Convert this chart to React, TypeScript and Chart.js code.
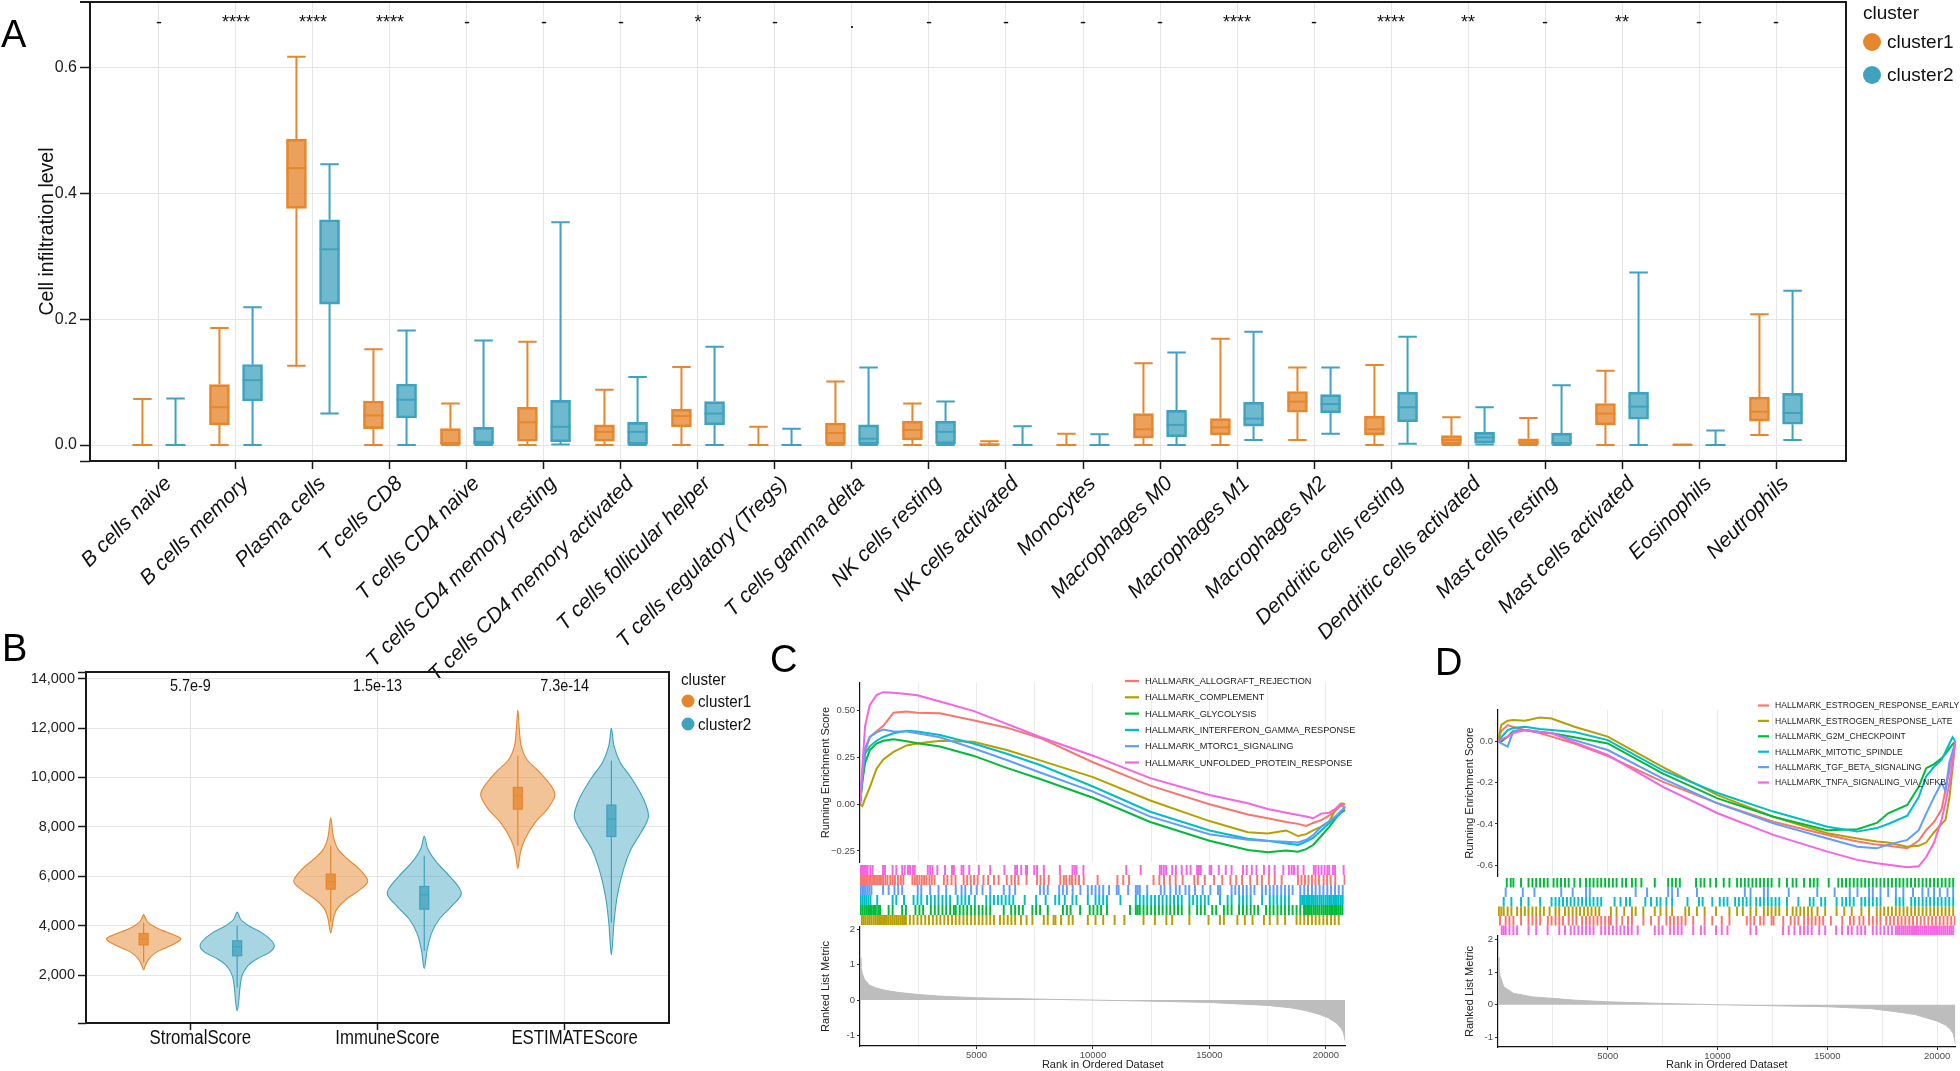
import React, { useEffect, useRef } from 'react';
import { Chart, registerables } from 'chart.js';

Chart.register(...registerables);

const SANS = '"Liberation Sans", Arial, Helvetica, sans-serif';
Chart.defaults.font.family = SANS;

// ---------------- Panel A : CIBERSORT boxplots ----------------
const clusterNames = ['cluster1', 'cluster2'];
const immuneCells = [
  'B cells naive', 'B cells memory', 'Plasma cells', 'T cells CD8', 'T cells CD4 naive',
  'T cells CD4 memory resting', 'T cells CD4 memory activated', 'T cells follicular helper',
  'T cells regulatory (Tregs)', 'T cells gamma delta', 'NK cells resting', 'NK cells activated',
  'Monocytes', 'Macrophages M0', 'Macrophages M1', 'Macrophages M2', 'Dendritic cells resting',
  'Dendritic cells activated', 'Mast cells resting', 'Mast cells activated', 'Eosinophils', 'Neutrophils',
];
const significanceLabels = ['-', '****', '****', '****', '-', '-', '-', '*', '-', '.', '-', '-', '-', '-', '****', '-', '****', '**', '-', '**', '-', '-'];
// [min, q1, median, q3, max]
const cluster1Boxes = [
  [0, 0, 0, 0, 0.073], [0, 0.032, 0.060, 0.096, 0.186], [0.126, 0.376, 0.440, 0.486, 0.617],
  [0, 0.026, 0.047, 0.070, 0.152], [0, 0.001, 0.003, 0.026, 0.066], [0, 0.006, 0.036, 0.060, 0.164],
  [0, 0.006, 0.021, 0.032, 0.088], [0, 0.029, 0.046, 0.057, 0.124], [0, 0, 0, 0, 0.029],
  [0, 0.001, 0.019, 0.035, 0.101], [0, 0.008, 0.024, 0.038, 0.066], [0, 0, 0.001, 0.002, 0.006],
  [0, 0, 0, 0, 0.018], [0, 0.011, 0.025, 0.050, 0.130], [0, 0.016, 0.028, 0.042, 0.169],
  [0.008, 0.052, 0.069, 0.085, 0.123], [0, 0.016, 0.025, 0.046, 0.127], [0, 0.001, 0.008, 0.015, 0.044],
  [0, 0.001, 0.004, 0.010, 0.043], [0, 0.032, 0.050, 0.066, 0.118], [0, 0, 0, 0, 0.001],
  [0.016, 0.038, 0.053, 0.076, 0.208],
];
const cluster2Boxes = [
  [0, 0, 0, 0, 0.074], [0, 0.070, 0.103, 0.128, 0.219], [0.050, 0.224, 0.311, 0.358, 0.446],
  [0, 0.043, 0.072, 0.097, 0.182], [0, 0, 0.005, 0.028, 0.166], [0.001, 0.005, 0.029, 0.071, 0.354],
  [0, 0.001, 0.021, 0.036, 0.108], [0, 0.032, 0.050, 0.069, 0.156], [0, 0, 0, 0, 0.026],
  [0, 0.001, 0.010, 0.032, 0.123], [0, 0.002, 0.021, 0.038, 0.069], [0, 0, 0, 0, 0.030],
  [0, 0, 0, 0, 0.017], [0, 0.013, 0.032, 0.055, 0.147], [0.008, 0.030, 0.042, 0.068, 0.180],
  [0.018, 0.051, 0.065, 0.080, 0.123], [0.002, 0.037, 0.060, 0.084, 0.172], [0.001, 0.003, 0.012, 0.020, 0.060],
  [0, 0.001, 0.003, 0.019, 0.095], [0, 0.041, 0.061, 0.084, 0.274], [0, 0, 0, 0, 0.023],
  [0.008, 0.033, 0.051, 0.082, 0.245],
];
const boxYTicks = [0, 0.2, 0.4, 0.6];

// ---------------- Panel B : ESTIMATE violins ----------------
const scoreNames = ['StromalScore', 'ImmuneScore', 'ESTIMATEScore'];
const scorePValues = ['5.7e-9', '1.5e-13', '7.3e-14'];
const scoreYTicks = [2000, 4000, 6000, 8000, 10000, 12000, 14000];
// violin outlines: [value, relative half-width]
const cluster1Violins = [
  [[4450, 0], [4300, 0.05], [4130, 0.12], [3950, 0.3], [3800, 0.52], [3650, 0.78], [3480, 1.0], [3320, 0.9], [3120, 0.62], [2920, 0.34], [2650, 0.14], [2400, 0.05], [2210, 0]],
  [[8370, 0], [7620, 0.07], [7090, 0.2], [6680, 0.47], [6280, 0.78], [5800, 1.0], [5400, 0.74], [5060, 0.41], [4660, 0.16], [4250, 0.07], [3710, 0]],
  [[12730, 0], [11960, 0.04], [11280, 0.09], [10740, 0.24], [10200, 0.6], [9660, 0.9], [9260, 1.0], [8720, 0.8], [8180, 0.47], [7500, 0.19], [6960, 0.07], [6320, 0]],
];
const cluster2Violins = [
  [[4550, 0], [4250, 0.1], [3980, 0.33], [3710, 0.67], [3390, 0.93], [3150, 1.0], [2920, 0.87], [2650, 0.53], [2380, 0.29], [1970, 0.13], [1430, 0.07], [890, 0.04], [550, 0]],
  [[7620, 0], [7090, 0.1], [6550, 0.34], [6010, 0.68], [5330, 1.0], [4790, 0.74], [4250, 0.4], [3710, 0.2], [3040, 0.08], [2270, 0]],
  [[12000, 0], [11280, 0.07], [10610, 0.24], [9930, 0.56], [9120, 0.87], [8420, 1.0], [7770, 0.8], [7100, 0.53], [6290, 0.33], [5210, 0.16], [4130, 0.07], [2820, 0]],
];
const cluster1ViolinBoxes = [[2510, 3224, 3454, 3684, 4130], [4149, 5479, 5776, 6086, 7233], [7233, 8718, 9258, 9595, 10877]];
const cluster2ViolinBoxes = [[1500, 2780, 3144, 3387, 3994], [2978, 4669, 5249, 5587, 6828], [4130, 7611, 8314, 8880, 10674]];

// ---------------- Panels C & D : GSEA ----------------
const hueColors = ['#F8766D', '#B79F00', '#00BA38', '#00BFC4', '#619CFF', '#F564E3'];
const rankMax = 20840;
const rankGridTicks = [2500, 5000, 7500, 10000, 12500, 15000, 17500, 20000];

const gseaCNames = ['HALLMARK_ALLOGRAFT_REJECTION', 'HALLMARK_COMPLEMENT', 'HALLMARK_GLYCOLYSIS', 'HALLMARK_INTERFERON_GAMMA_RESPONSE', 'HALLMARK_MTORC1_SIGNALING', 'HALLMARK_UNFOLDED_PROTEIN_RESPONSE'];
const gseaCRanks = [0, 100, 220, 420, 710, 1000, 1440, 2000, 2460, 3430, 4860, 6300, 7730, 10000, 12460, 15000, 16650, 17500, 18300, 18800, 19150, 19450, 19800, 20150, 20450, 20650, 20830];
const esAllograft = [0, 0.12, 0.28, 0.36, 0.39, 0.42, 0.49, 0.496, 0.49, 0.487, 0.45, 0.41, 0.355, 0.225, 0.10, 0.0, -0.055, -0.075, -0.095, -0.105, -0.116, -0.10, -0.085, -0.06, -0.03, -0.005, -0.02];
const esComplement = [0, -0.01, 0.03, 0.09, 0.19, 0.24, 0.28, 0.315, 0.325, 0.34, 0.335, 0.29, 0.235, 0.145, 0.02, -0.09, -0.15, -0.157, -0.14, -0.17, -0.16, -0.14, -0.12, -0.09, -0.02, 0.005, 0.0];
const esGlycolysis = [0, 0.12, 0.22, 0.29, 0.325, 0.34, 0.348, 0.337, 0.327, 0.309, 0.26, 0.195, 0.135, 0.035, -0.095, -0.195, -0.245, -0.257, -0.247, -0.254, -0.24, -0.218, -0.17, -0.12, -0.07, -0.045, -0.03];
const esIfng = [0, 0.15, 0.27, 0.31, 0.34, 0.36, 0.38, 0.394, 0.39, 0.371, 0.325, 0.27, 0.21, 0.095, -0.04, -0.14, -0.185, -0.195, -0.21, -0.218, -0.2, -0.18, -0.14, -0.1, -0.07, -0.04, -0.01];
const esMtorc1 = [0, 0.15, 0.30, 0.36, 0.385, 0.40, 0.39, 0.389, 0.38, 0.359, 0.30, 0.237, 0.17, 0.068, -0.066, -0.16, -0.19, -0.197, -0.2, -0.205, -0.19, -0.165, -0.12, -0.09, -0.06, -0.035, -0.02];
const esUnfolded = [0, 0.20, 0.42, 0.53, 0.585, 0.60, 0.597, 0.59, 0.583, 0.55, 0.50, 0.43, 0.36, 0.26, 0.14, 0.05, 0.005, -0.025, -0.045, -0.058, -0.065, -0.075, -0.05, -0.045, -0.02, 0.0, -0.02];
const gseaCSeries = [esAllograft, esComplement, esGlycolysis, esIfng, esMtorc1, esUnfolded];

const hitsCUnfolded = [30, 80, 130, 180, 230, 280, 330, 440, 540, 990, 1070, 1400, 1560, 1810, 1920, 2060, 2150, 2270, 2350, 2910, 3010, 3110, 3320, 3650, 3950, 4030, 4360, 4440, 4690, 5100, 5590, 6200, 6660, 6740, 6920, 7120, 7170, 7480, 7600, 7890, 8580, 9120, 9210, 9290, 9590, 11430, 12050, 12870, 12940, 13040, 13140, 13400, 13560, 13810, 14020, 14190, 14470, 14550, 14630, 15010, 15080, 15400, 15700, 15950, 16440, 16600, 16820, 17020, 17340, 17560, 17800, 18170, 18410, 18530, 18630, 18790, 19040, 19480, 19560, 19680, 19810, 19940, 20060, 20140, 20300, 20390, 20760];
const hitsCAllograft = [30, 90, 150, 210, 270, 330, 400, 470, 560, 640, 730, 820, 900, 990, 1090, 1180, 1300, 1400, 1500, 1630, 1750, 1860, 2250, 2350, 2450, 2550, 2650, 2750, 2850, 2980, 3080, 3200, 3600, 3750, 3930, 4100, 4450, 4600, 4750, 4900, 5050, 5300, 5500, 5750, 5950, 6300, 6500, 6650, 6800, 7150, 7600, 7750, 7900, 8100, 8600, 8750, 8850, 9000, 9100, 9250, 9400, 9600, 10200, 11050, 11300, 11550, 12600, 12850, 13050, 13300, 13550, 13850, 14350, 14500, 14800, 15200, 15550, 15900, 16150, 16400, 16750, 17050, 17250, 17550, 17800, 18100, 18800, 18950, 19100, 19250, 19400, 19550, 19700, 19900, 20050, 20200, 20400, 20800];
const hitsCMtorc1 = [30, 100, 170, 240, 320, 400, 490, 990, 1230, 1480, 1640, 1810, 2480, 2630, 3010, 3370, 3700, 4110, 4360, 4520, 4770, 5010, 5260, 5590, 6170, 6420, 6660, 7730, 7890, 8060, 8550, 8710, 8880, 9130, 9460, 9780, 9950, 10110, 10270, 10440, 10690, 11020, 11100, 11510, 11840, 11920, 12010, 12330, 12910, 13070, 13320, 13560, 13720, 13970, 14130, 14380, 14710, 15040, 15370, 15460, 15950, 16110, 16270, 16440, 16600, 16770, 16930, 17260, 17420, 17590, 17750, 17910, 18080, 18240, 18410, 18570, 18900, 19070, 19230, 19400, 19560, 19730, 19890, 20060, 20220, 20390, 20550, 20720];
const hitsCIfng = [30, 110, 190, 270, 360, 450, 740, 1400, 1560, 1890, 2300, 2470, 2630, 2880, 3040, 3210, 3370, 3540, 3700, 3870, 4190, 4360, 4520, 4680, 4930, 5420, 5590, 5750, 5920, 6080, 6250, 6410, 6580, 7070, 7560, 7970, 8380, 8550, 8790, 9120, 9290, 9780, 10110, 10270, 10440, 10600, 11180, 11840, 12010, 12170, 12330, 12500, 12660, 12830, 12990, 13160, 13320, 13480, 13650, 13810, 14140, 14300, 14470, 14630, 14800, 14960, 15450, 15780, 15950, 16280, 16440, 16600, 16770, 17260, 17590, 17750, 17910, 18080, 18240, 18410, 18900, 18980, 19060, 19150, 19230, 19310, 19400, 19480, 19560, 19640, 19730, 19810, 19890, 19980, 20060, 20140, 20220, 20310, 20390, 20470, 20550, 20640, 20720];
const hitsCGlycolysis = [30, 110, 190, 270, 350, 430, 510, 600, 680, 780, 860, 1230, 1400, 1810, 1970, 2380, 2550, 2710, 3040, 3210, 3370, 3540, 3700, 3870, 4030, 4110, 4280, 4440, 4600, 4770, 4930, 5100, 5260, 5420, 5590, 6170, 6490, 6660, 6820, 6990, 7400, 7560, 7730, 8060, 8710, 8880, 9040, 9450, 9860, 10020, 10190, 10350, 10600, 11590, 11840, 11920, 12010, 12170, 12330, 12500, 12660, 12830, 12990, 13160, 13320, 13490, 13650, 13810, 14140, 14470, 14630, 14800, 15120, 15290, 15620, 15780, 15950, 16270, 16440, 16600, 16770, 16930, 17090, 17430, 17590, 17750, 17920, 18080, 18240, 18410, 18570, 18740, 18900, 19060, 19140, 19230, 19310, 19390, 19480, 19560, 19640, 19720, 19810, 19890, 19970, 20050, 20140, 20220, 20300, 20390, 20470, 20550, 20630, 20710];
const hitsCComplement = [80, 160, 240, 330, 410, 490, 580, 660, 740, 820, 900, 990, 1070, 1150, 1230, 1320, 1400, 1480, 1560, 1640, 1730, 1810, 1890, 1970, 2140, 2300, 2470, 2630, 2800, 2960, 3130, 3290, 3450, 3620, 3780, 3950, 4110, 4270, 4440, 4600, 4770, 4930, 5100, 5260, 5430, 5590, 5750, 6010, 6170, 6340, 6500, 6660, 6910, 7150, 7400, 7890, 8060, 8310, 8390, 8630, 8960, 9130, 9780, 10110, 10440, 10930, 11350, 12170, 12660, 13150, 13400, 14140, 14960, 15450, 15620, 16200, 16520, 16850, 17340, 17590, 17920, 18250, 18740, 18900, 19070, 19230, 19400, 19560, 19720, 19890, 20050, 20220, 20380, 20550];
// top-to-bottom rows of the barcode with the index of their gene set
const gseaCRowSets = [5, 0, 4, 3, 2, 1];
const gseaCRowHits = [hitsCUnfolded, hitsCAllograft, hitsCMtorc1, hitsCIfng, hitsCGlycolysis, hitsCComplement];
const metricCRanks = [0, 40, 100, 200, 410, 700, 1070, 1600, 2460, 3500, 5000, 7500, 10000, 12500, 15000, 17500, 18500, 19150, 19700, 20100, 20470, 20650, 20750, 20830];
const metricCValues = [1.2, 0.95, 0.75, 0.58, 0.42, 0.34, 0.28, 0.22, 0.16, 0.11, 0.066, 0.03, 0.0, -0.03, -0.066, -0.15, -0.22, -0.3, -0.4, -0.5, -0.66, -0.8, -0.92, -1.15];

const gseaDNames = ['HALLMARK_ESTROGEN_RESPONSE_EARLY', 'HALLMARK_ESTROGEN_RESPONSE_LATE', 'HALLMARK_G2M_CHECKPOINT', 'HALLMARK_MITOTIC_SPINDLE', 'HALLMARK_TGF_BETA_SIGNALING', 'HALLMARK_TNFA_SIGNALING_VIA_NFKB'];
const gseaDRanks = [0, 150, 440, 700, 1220, 1900, 2440, 3480, 5000, 7490, 10000, 12540, 15000, 16370, 17250, 17770, 18640, 19160, 19500, 19860, 20200, 20380, 20560, 20700, 20830];
const esEarly = [0, 0.05, 0.079, 0.07, 0.055, 0.04, 0.023, -0.01, -0.071, -0.195, -0.30, -0.389, -0.453, -0.485, -0.50, -0.506, -0.518, -0.48, -0.43, -0.39, -0.33, -0.235, -0.14, -0.07, 0.0];
const esLate = [0, 0.08, 0.10, 0.103, 0.10, 0.116, 0.111, 0.071, 0.023, -0.123, -0.26, -0.365, -0.445, -0.47, -0.485, -0.49, -0.51, -0.505, -0.49, -0.44, -0.40, -0.38, -0.27, -0.13, 0.0];
const esG2m = [0, 0.0, 0.023, 0.05, 0.055, 0.045, 0.039, 0.02, -0.01, -0.155, -0.276, -0.365, -0.43, -0.425, -0.395, -0.348, -0.308, -0.22, -0.13, -0.11, -0.082, -0.06, -0.034, -0.015, 0.0];
const esMitotic = [0, 0.02, 0.055, 0.065, 0.071, 0.06, 0.055, 0.045, 0.006, -0.139, -0.25, -0.34, -0.413, -0.437, -0.42, -0.40, -0.36, -0.27, -0.17, -0.123, -0.09, -0.05, -0.01, 0.02, 0.0];
const esTgf = [0, -0.01, -0.025, 0.05, 0.055, 0.045, 0.04, 0.006, -0.042, -0.179, -0.30, -0.397, -0.47, -0.51, -0.518, -0.50, -0.477, -0.43, -0.35, -0.27, -0.2, -0.24, -0.1, -0.05, 0.0];
const esTnfa = [0, 0.01, 0.023, 0.04, 0.055, 0.045, 0.039, -0.005, -0.066, -0.219, -0.348, -0.453, -0.534, -0.574, -0.59, -0.598, -0.61, -0.605, -0.56, -0.49, -0.38, -0.30, -0.20, -0.11, 0.0];
const gseaDSeries = [esEarly, esLate, esG2m, esMitotic, esTgf, esTnfa];

const hitsDG2m = [400, 580, 700, 1050, 1390, 1570, 1740, 1920, 2090, 2260, 2530, 2700, 2870, 3050, 3220, 3480, 3740, 4010, 4180, 4350, 4530, 4700, 4880, 5050, 5230, 5400, 5660, 5830, 6100, 6270, 6530, 7140, 7750, 7930, 8100, 8280, 9020, 9230, 9400, 9670, 9930, 10280, 10540, 10890, 11060, 11240, 11410, 11590, 11760, 11940, 12110, 12290, 12460, 12810, 13160, 13420, 13590, 13940, 14210, 14380, 14550, 15060, 15500, 15670, 15850, 16020, 16200, 16370, 16550, 16720, 16890, 17070, 17240, 17420, 17590, 17770, 17940, 18120, 18290, 18460, 18640, 18810, 18990, 19160, 19340, 19510, 19680, 19860, 20030, 20210, 20380, 20560, 20730];
const hitsDTgf = [350, 1130, 1660, 2880, 3400, 4010, 4180, 6270, 6790, 7750, 7930, 8190, 9060, 11240, 11500, 12110, 12290, 13240, 14540, 15330, 16020, 16370, 16900, 17070, 17420, 17770, 18120, 18460, 18900, 19330, 19600, 19860, 20120, 20470, 20730];
const hitsDMitotic = [260, 610, 1050, 1390, 1920, 2440, 2620, 2790, 2960, 3140, 3310, 3480, 3660, 3830, 4010, 4180, 4350, 4530, 4700, 5310, 5580, 5830, 6010, 6710, 6970, 7230, 7400, 7670, 7930, 8630, 9150, 9320, 9760, 10100, 10280, 10450, 10800, 10970, 11150, 11320, 11500, 11760, 11940, 12110, 12290, 12460, 12640, 12810, 13160, 13680, 14200, 14370, 14720, 14900, 15420, 15680, 15850, 16020, 16200, 16550, 16720, 16900, 17070, 17250, 17420, 18120, 18290, 18460, 18820, 18990, 19160, 19340, 19510, 19680, 19860, 20030, 20200, 20380, 20550, 20730];
const hitsDLate = [40, 150, 260, 440, 610, 870, 1050, 1220, 1390, 1570, 1740, 1920, 2090, 2350, 2620, 2790, 3050, 3220, 3400, 3570, 3740, 3920, 4090, 4260, 4440, 4610, 5140, 5400, 5750, 6100, 6270, 6620, 7140, 7400, 7670, 7930, 8530, 8700, 9060, 9410, 9930, 10540, 10890, 11150, 11500, 11760, 12110, 12290, 12460, 12640, 12810, 13160, 13420, 13590, 13770, 13940, 14120, 14290, 14550, 14900, 15420, 15770, 16110, 16550, 16900, 17250, 17420, 17590, 17770, 17940, 18120, 18290, 18470, 18640, 18820, 18990, 19160, 19340, 19510, 19690, 19860, 20030, 20210, 20380, 20550, 20730];
const hitsDEarly = [90, 350, 520, 700, 1050, 1390, 1570, 1740, 1920, 2270, 2440, 2620, 2790, 2960, 3220, 3400, 3570, 3830, 4010, 4180, 4350, 4530, 4700, 4880, 5050, 5140, 5400, 5660, 5920, 6100, 6620, 6970, 7320, 7670, 7840, 8010, 8190, 8360, 8540, 8890, 9410, 9760, 10190, 10540, 11330, 11500, 11670, 11940, 12100, 12460, 12550, 12990, 13330, 13510, 13680, 13940, 14120, 14290, 14460, 14640, 14810, 15160, 15680, 16030, 16200, 16460, 16640, 16900, 17070, 17250, 17420, 17680, 17860, 18030, 18210, 18380, 18550, 18730, 18900, 19080, 19250, 19420, 19600, 19770, 19940, 20120, 20290, 20470, 20640, 20800];
const hitsDTnfa = [170, 260, 350, 520, 700, 870, 1390, 1740, 2260, 2790, 3050, 3310, 3480, 3660, 3830, 4010, 4180, 4350, 4700, 4880, 5050, 5230, 5400, 5580, 5750, 5920, 6090, 6360, 7140, 7320, 7490, 7840, 8010, 8190, 8360, 8890, 9240, 9410, 9930, 10190, 10450, 11500, 11760, 12980, 13240, 13500, 13760, 13940, 14110, 14290, 14630, 14900, 15400, 15670, 15940, 16110, 16370, 16540, 16720, 17070, 17240, 17420, 17590, 17770, 17940, 18120, 18210, 18290, 18380, 18460, 18550, 18640, 18730, 18820, 18900, 18990, 19080, 19160, 19250, 19340, 19430, 19510, 19600, 19690, 19770, 19860, 19950, 20030, 20120, 20210, 20300, 20380, 20470, 20560, 20640, 20730];
const gseaDRowSets = [2, 4, 3, 1, 0, 5];
const gseaDRowHits = [hitsDG2m, hitsDTgf, hitsDMitotic, hitsDLate, hitsDEarly, hitsDTnfa];
const metricDRanks = [0, 40, 90, 260, 700, 1570, 2610, 3500, 5000, 7500, 10000, 12500, 15000, 17000, 18100, 19000, 19500, 20000, 20380, 20600, 20730, 20830];
const metricDValues = [1.45, 1.15, 0.9, 0.55, 0.35, 0.24, 0.19, 0.14, 0.09, 0.04, 0.0, -0.03, -0.06, -0.12, -0.21, -0.3, -0.4, -0.5, -0.62, -0.75, -0.88, -1.18];

// ---------------- styling ----------------
const STROKES = ['#E6872D', '#3FA2BE'];
const BOX_FILLS = ['rgba(230,135,45,0.78)', 'rgba(63,162,190,0.75)'];
const VIOLIN_FILLS = ['rgba(230,135,45,0.5)', 'rgba(63,162,190,0.45)'];
const GRID = '#E6E6E6';
const A_SHIFT = 16; // panel A canvas starts above the page so its plot top sits at y=2

const CANVASES = {
  a: { left: 0, top: -A_SHIFT, width: 1960, height: 700 + A_SHIFT },
  b: { left: 0, top: 630, width: 780, height: 441 },
  c1: { left: 770, top: 630, width: 600, height: 241 },
  c2: { left: 770, top: 865, width: 600, height: 60 },
  c3: { left: 770, top: 913, width: 600, height: 158 },
  d1: { left: 1370, top: 630, width: 590, height: 255 },
  d2: { left: 1370, top: 878, width: 590, height: 57 },
  d3: { left: 1370, top: 922, width: 590, height: 149 },
};

function drawText(ctx: any, text: string, x: number, y: number, font: string, color: string, align = 'left', baseline = 'alphabetic', angle = 0, xScale = 1) {
  ctx.save();
  ctx.translate(x, y);
  if (angle) ctx.rotate(angle);
  if (xScale !== 1) ctx.scale(xScale, 1);
  ctx.font = font;
  ctx.fillStyle = color;
  ctx.textAlign = align;
  ctx.textBaseline = baseline;
  ctx.fillText(text, 0, 0);
  ctx.restore();
}

function smoothClosedPath(ctx: any, pts: number[][]) {
  const n = pts.length;
  ctx.moveTo(pts[0][0], pts[0][1]);
  for (let i = 0; i < n; i++) {
    const p0 = pts[(i - 1 + n) % n];
    const p1 = pts[i];
    const p2 = pts[(i + 1) % n];
    const p3 = pts[(i + 2) % n];
    ctx.bezierCurveTo(
      p1[0] + (p2[0] - p0[0]) / 6, p1[1] + (p2[1] - p0[1]) / 6,
      p2[0] - (p3[0] - p1[0]) / 6, p2[1] - (p3[1] - p1[1]) / 6,
      p2[0], p2[1],
    );
  }
  ctx.closePath();
}

const baseOptions = (padding: any) => ({
  animation: false,
  responsive: false,
  devicePixelRatio: 1,
  events: [],
  layout: { padding, autoPadding: false },
  plugins: { legend: { display: false }, tooltip: { enabled: false } },
});

// ---------------- Panel A ----------------
function makePanelA(canvas: HTMLCanvasElement) {
  const DODGE = 0.215;
  const CAP = 0.12;
  const yMin = -0.0254;
  const yMax = 0.704;
  const plugin = {
    id: 'panelA',
    beforeDatasetsDraw(chart: any) {
      const { ctx, scales: { x, y } } = chart;
      ctx.save();
      ctx.lineWidth = 2;
      [cluster1Boxes, cluster2Boxes].forEach((boxes, k) => {
        ctx.strokeStyle = STROKES[k];
        const off = k === 0 ? -DODGE : DODGE;
        boxes.forEach((b, i) => {
          const cx = x.getPixelForValue(i + off);
          const cap = x.getPixelForValue(CAP) - x.getPixelForValue(0);
          const [mn, q1, , q3, mx] = b;
          ctx.beginPath();
          ctx.moveTo(cx, y.getPixelForValue(q3)); ctx.lineTo(cx, y.getPixelForValue(mx));
          ctx.moveTo(cx - cap, y.getPixelForValue(mx)); ctx.lineTo(cx + cap, y.getPixelForValue(mx));
          ctx.moveTo(cx, y.getPixelForValue(q1)); ctx.lineTo(cx, y.getPixelForValue(mn));
          ctx.moveTo(cx - cap, y.getPixelForValue(mn)); ctx.lineTo(cx + cap, y.getPixelForValue(mn));
          ctx.stroke();
        });
      });
      ctx.restore();
    },
    afterDatasetsDraw(chart: any) {
      const { ctx, scales: { x, y } } = chart;
      ctx.save();
      ctx.lineWidth = 2;
      [cluster1Boxes, cluster2Boxes].forEach((boxes, k) => {
        ctx.strokeStyle = STROKES[k];
        const off = k === 0 ? -DODGE : DODGE;
        boxes.forEach((b, i) => {
          const cx = x.getPixelForValue(i + off);
          const ym = y.getPixelForValue(b[2]);
          ctx.beginPath();
          ctx.moveTo(cx - 10, ym); ctx.lineTo(cx + 10, ym);
          ctx.stroke();
        });
      });
      ctx.restore();
    },
    afterDraw(chart: any) {
      const { ctx, chartArea: ca, scales: { x, y } } = chart;
      ctx.save();
      ctx.strokeStyle = '#1a1a1a';
      ctx.lineWidth = 2;
      ctx.strokeRect(ca.left, ca.top, ca.right - ca.left, ca.bottom - ca.top);
      ctx.beginPath();
      ctx.moveTo(ca.left - 10, ca.top); ctx.lineTo(ca.left, ca.top);
      ctx.stroke();
      ctx.restore();
      significanceLabels.forEach((s, i) => drawText(ctx, s, x.getPixelForValue(i), y.getPixelForValue(0.662), `18px ${SANS}`, '#111', 'center'));
      immuneCells.forEach((name, i) => drawText(ctx, name, x.getPixelForValue(i) + 2, ca.bottom + 12, `italic 21px ${SANS}`, '#111', 'right', 'top', -Math.PI / 4));
      drawText(ctx, 'Cell infiltration level', 48, (ca.top + ca.bottom) / 2, `19.5px ${SANS}`, '#111', 'center', 'middle', -Math.PI / 2);
      drawText(ctx, 'A', 1, 47 + A_SHIFT, `38px ${SANS}`, '#000');
      // legend
      drawText(ctx, 'cluster', 1863, 19 + A_SHIFT, `19px ${SANS}`, '#111');
      clusterNames.forEach((nm, k) => {
        const cy = 42 + k * 33 + A_SHIFT;
        ctx.save();
        ctx.fillStyle = STROKES[k];
        ctx.beginPath();
        ctx.arc(1872, cy, 9, 0, Math.PI * 2);
        ctx.fill();
        ctx.restore();
        drawText(ctx, nm, 1887, cy + 1, `19px ${SANS}`, '#111', 'left', 'middle');
      });
    },
  };
  return new Chart(canvas, {
    type: 'bar',
    data: {
      datasets: [cluster1Boxes, cluster2Boxes].map((boxes, k) => ({
        label: clusterNames[k],
        data: boxes.map((b, i) => ({ x: i + (k === 0 ? -DODGE : DODGE), y: [b[1], b[3]] })),
        backgroundColor: BOX_FILLS[k],
        borderColor: STROKES[k],
        borderWidth: 2,
        borderSkipped: false,
        barThickness: 20,
        grouped: false,
      })),
    },
    options: {
      ...baseOptions({ left: 0, top: 2 + A_SHIFT, right: 114, bottom: 0 }),
      scales: {
        x: {
          type: 'linear', min: -0.896, max: 21.909, offset: false,
          afterBuildTicks: (s: any) => { s.ticks = immuneCells.map((_, i) => ({ value: i })); },
          afterFit: (s: any) => { s.height = 239; },
          ticks: { display: false },
          grid: { offset: false, color: GRID, lineWidth: 1, tickLength: 8, tickColor: '#1a1a1a', tickWidth: 1.5 },
          border: { display: false },
        },
        y: {
          type: 'linear', min: yMin, max: yMax,
          afterBuildTicks: (s: any) => { s.ticks = [yMin, ...boxYTicks].map((v) => ({ value: v })); },
          afterFit: (s: any) => { s.width = 90; },
          ticks: {
            font: { size: 16, family: SANS }, color: '#1a1a1a', padding: 3,
            callback: (v: number) => (boxYTicks.some((t) => Math.abs(t - v) < 1e-9) ? v.toFixed(1) : ''),
          },
          grid: { color: GRID, lineWidth: 1, tickLength: 10, tickColor: '#1a1a1a', tickWidth: 1.5 },
          border: { display: false },
        },
      },
    },
    plugins: [plugin],
  } as any);
}

// ---------------- Panel B ----------------
function makePanelB(canvas: HTMLCanvasElement) {
  const yMin = 60;
  const yMax = 14270;
  const DODGE = 0.25;
  const HALF = 0.198;
  const plugin = {
    id: 'panelB',
    afterDatasetsDraw(chart: any) {
      const { ctx, scales: { x, y } } = chart;
      const unit = x.getPixelForValue(1) - x.getPixelForValue(0);
      [cluster1Violins, cluster2Violins].forEach((violins, k) => {
        const boxes = k === 0 ? cluster1ViolinBoxes : cluster2ViolinBoxes;
        violins.forEach((prof, i) => {
          const cx = x.getPixelForValue(i + (k === 0 ? -DODGE : DODGE));
          const hw = HALF * unit;
          const right = prof.map(([v, w]) => [cx + w * hw, y.getPixelForValue(v)]);
          const left = prof.slice(1, -1).reverse().map(([v, w]) => [cx - w * hw, y.getPixelForValue(v)]);
          const pts = [...right, ...left];
          ctx.save();
          ctx.beginPath();
          smoothClosedPath(ctx, pts);
          ctx.fillStyle = VIOLIN_FILLS[k];
          ctx.fill();
          ctx.strokeStyle = STROKES[k];
          ctx.lineWidth = 1.1;
          ctx.stroke();
          const [mn, q1, med, q3, mx] = boxes[i];
          ctx.beginPath();
          ctx.moveTo(cx, y.getPixelForValue(mx)); ctx.lineTo(cx, y.getPixelForValue(q3));
          ctx.moveTo(cx, y.getPixelForValue(q1)); ctx.lineTo(cx, y.getPixelForValue(mn));
          ctx.lineWidth = 1.2;
          ctx.stroke();
          const top = y.getPixelForValue(q3);
          const bot = y.getPixelForValue(q1);
          ctx.fillStyle = BOX_FILLS[k];
          ctx.fillRect(cx - 4.5, top, 9, bot - top);
          ctx.strokeRect(cx - 4.5, top, 9, bot - top);
          ctx.beginPath();
          ctx.moveTo(cx - 4.5, y.getPixelForValue(med)); ctx.lineTo(cx + 4.5, y.getPixelForValue(med));
          ctx.stroke();
          ctx.restore();
        });
      });
    },
    afterDraw(chart: any) {
      const { ctx, chartArea: ca, scales: { x } } = chart;
      ctx.save();
      ctx.strokeStyle = '#1a1a1a';
      ctx.lineWidth = 2;
      ctx.strokeRect(ca.left, ca.top, ca.right - ca.left, ca.bottom - ca.top);
      ctx.restore();
      scorePValues.forEach((p, i) => drawText(ctx, p, x.getPixelForValue(i), 57, `16px ${SANS}`, '#111', 'center', 'middle', 0, 0.9));
      scoreNames.forEach((nm, i) => drawText(ctx, nm, x.getPixelForValue(i) + 10, 409, `19.5px ${SANS}`, '#111', 'center', 'middle', 0, 0.86));
      drawText(ctx, 'B', 2, 31, `38px ${SANS}`, '#000');
      drawText(ctx, 'cluster', 681, 55, `16.5px ${SANS}`, '#111', 'left', 'alphabetic', 0, 0.92);
      clusterNames.forEach((nm, k) => {
        const cy = 71 + k * 23;
        ctx.save();
        ctx.fillStyle = STROKES[k];
        ctx.beginPath();
        ctx.arc(688, cy, 6.5, 0, Math.PI * 2);
        ctx.fill();
        ctx.restore();
        drawText(ctx, nm, 698, cy + 1, `16.5px ${SANS}`, '#111', 'left', 'middle', 0, 0.92);
      });
    },
  };
  return new Chart(canvas, {
    type: 'scatter',
    data: { datasets: [] },
    options: {
      ...baseOptions({ left: 0, top: 42, right: 111, bottom: 0 }),
      scales: {
        x: {
          type: 'linear', min: -0.558, max: 2.558,
          afterBuildTicks: (s: any) => { s.ticks = scoreNames.map((_, i) => ({ value: i })); },
          afterFit: (s: any) => { s.height = 48; },
          ticks: { display: false },
          grid: { color: GRID, tickLength: 7, tickColor: '#1a1a1a', tickWidth: 1.5 },
          border: { display: false },
        },
        y: {
          type: 'linear', min: yMin, max: yMax,
          afterBuildTicks: (s: any) => { s.ticks = [yMin, ...scoreYTicks, yMax].map((v) => ({ value: v })); },
          afterFit: (s: any) => { s.width = 86; },
          ticks: {
            font: { size: 14.5, family: SANS }, color: '#222', padding: 3,
            callback: (v: number) => (scoreYTicks.includes(v) ? v.toLocaleString('en-US') : ''),
          },
          grid: { color: GRID, tickLength: 8, tickColor: '#1a1a1a', tickWidth: 1.5 },
          border: { display: false },
        },
      },
    },
    plugins: [plugin],
  } as any);
}

// ---------------- GSEA helpers ----------------
function makeES(canvas: HTMLCanvasElement, cfg: any) {
  const plugin = {
    id: 'esDecor',
    afterDraw(chart: any) {
      const { ctx, chartArea: ca } = chart;
      drawText(ctx, 'Running Enrichment Score', cfg.titleX, (ca.top + ca.bottom) / 2, `11px ${SANS}`, '#222', 'center', 'middle', -Math.PI / 2);
      drawText(ctx, cfg.letter, cfg.letterX, cfg.letterY, `38px ${SANS}`, '#000');
      cfg.names.forEach((nm: string, k: number) => {
        const yy = cfg.legendY0 + k * cfg.legendDy;
        ctx.save();
        ctx.strokeStyle = hueColors[k];
        ctx.lineWidth = 2.2;
        ctx.beginPath();
        ctx.moveTo(cfg.legendX0, yy); ctx.lineTo(cfg.legendX1, yy);
        ctx.stroke();
        ctx.restore();
        drawText(ctx, nm, cfg.legendTx, yy + 0.5, `${cfg.legendFont}px ${SANS}`, '#222', 'left', 'middle');
      });
    },
  };
  return new Chart(canvas, {
    type: 'line',
    data: {
      datasets: cfg.series.map((vals: number[], k: number) => ({
        label: cfg.names[k],
        data: cfg.ranks.map((r: number, i: number) => ({ x: r, y: vals[i] })),
        borderColor: hueColors[k],
        borderWidth: 2,
        pointRadius: 0,
        tension: 0,
        fill: false,
        order: 6 - k,
      })),
    },
    options: {
      ...baseOptions(cfg.padding),
      scales: {
        x: {
          type: 'linear', min: 0, max: rankMax,
          afterBuildTicks: (s: any) => { s.ticks = rankGridTicks.map((v) => ({ value: v })); },
          afterFit: (s: any) => { s.height = 0; },
          ticks: { display: false },
          grid: { color: '#EBEBEB', drawTicks: false },
          border: { display: false },
        },
        y: {
          type: 'linear', min: cfg.yMin, max: cfg.yMax,
          afterBuildTicks: (s: any) => { s.ticks = cfg.yTicks.map((v: number) => ({ value: v })); },
          afterFit: (s: any) => { s.width = cfg.axisW; },
          ticks: { font: { size: 9.5, family: SANS }, color: '#4D4D4D', padding: 2, callback: cfg.fmt },
          grid: { drawOnChartArea: false, tickLength: 3, tickColor: '#333' },
          border: { display: true, color: '#111', width: 1.2 },
        },
      },
    },
    plugins: [plugin],
  } as any);
}

function makeBarcode(canvas: HTMLCanvasElement, cfg: any) {
  return new Chart(canvas, {
    type: 'bar',
    data: {
      datasets: cfg.rowHits.map((hits: number[], row: number) => ({
        label: cfg.names[cfg.rowSets[row]],
        data: hits.map((r) => ({ x: r, y: [5 - row + 0.04, 6 - row - 0.04] })),
        backgroundColor: hueColors[cfg.rowSets[row]],
        borderWidth: 0,
        barThickness: 1.3,
        grouped: false,
      })),
    },
    options: {
      ...baseOptions(cfg.padding),
      scales: {
        x: { type: 'linear', min: 0, max: rankMax, display: false, offset: false, grid: { offset: false } },
        y: { type: 'linear', min: 0, max: 6, display: false },
      },
    },
  } as any);
}

function makeMetric(canvas: HTMLCanvasElement, cfg: any) {
  const plugin = {
    id: 'metricDecor',
    afterDraw(chart: any) {
      const { ctx, chartArea: ca } = chart;
      drawText(ctx, 'Ranked List Metric', cfg.titleX, (ca.top + ca.bottom) / 2, `11px ${SANS}`, '#222', 'center', 'middle', -Math.PI / 2);
      drawText(ctx, 'Rank in Ordered Dataset', (ca.left + ca.right) / 2, cfg.xTitleY, `11px ${SANS}`, '#222', 'center', 'middle');
    },
  };
  return new Chart(canvas, {
    type: 'line',
    data: {
      datasets: [{
        label: 'metric',
        data: cfg.ranks.map((r: number, i: number) => ({ x: r, y: cfg.values[i] })),
        borderColor: '#BDBDBD',
        backgroundColor: '#BDBDBD',
        borderWidth: 1,
        pointRadius: 0,
        tension: 0,
        fill: 'origin',
      }],
    },
    options: {
      ...baseOptions(cfg.padding),
      scales: {
        x: {
          type: 'linear', min: 0, max: rankMax,
          afterBuildTicks: (s: any) => { s.ticks = rankGridTicks.map((v) => ({ value: v })); },
          afterFit: (s: any) => { s.height = cfg.xAxisH; },
          ticks: {
            font: { size: 9.5, family: SANS }, color: '#4D4D4D', padding: 1, maxRotation: 0, autoSkip: false,
            callback: (v: number) => (v % 5000 === 0 ? String(v) : ''),
          },
          grid: {
            color: '#EBEBEB', tickLength: 3,
            tickColor: (c: any) => (c.tick && c.tick.value % 5000 === 0 ? '#333' : 'rgba(0,0,0,0)'),
          },
          border: { display: true, color: '#111', width: 1.2 },
        },
        y: {
          type: 'linear', min: cfg.yMin, max: cfg.yMax,
          afterBuildTicks: (s: any) => { s.ticks = [-1, 0, 1, 2].map((v) => ({ value: v })); },
          afterFit: (s: any) => { s.width = cfg.axisW; },
          ticks: { font: { size: 9.5, family: SANS }, color: '#4D4D4D', padding: 2, callback: (v: number) => (v < 0 ? `-${Math.abs(v)}` : String(v)) },
          grid: { drawOnChartArea: false, tickLength: 3, tickColor: '#333' },
          border: { display: true, color: '#111', width: 1.2 },
        },
      },
    },
    plugins: [plugin],
  } as any);
}

export default function App() {
  const refs: any = {
    a: useRef(null), b: useRef(null), c1: useRef(null), c2: useRef(null), c3: useRef(null),
    d1: useRef(null), d2: useRef(null), d3: useRef(null),
  };

  useEffect(() => {
    const charts: any[] = [];
    charts.push(makePanelA(refs.a.current));
    charts.push(makePanelB(refs.b.current));
    charts.push(makeES(refs.c1.current, {
      names: gseaCNames, series: gseaCSeries, ranks: gseaCRanks,
      padding: { left: 0, top: 53, right: 24.5, bottom: 9 }, axisW: 90,
      yMin: -0.309, yMax: 0.649, yTicks: [-0.25, 0, 0.25, 0.5],
      fmt: (v: number) => (v < 0 ? `\u2212${Math.abs(v).toFixed(2)}` : v.toFixed(2)),
      titleX: 55.5, letter: 'C', letterX: 0, letterY: 42,
      legendY0: 51, legendDy: 16.3, legendX0: 355, legendX1: 369, legendTx: 375, legendFont: 9.2,
    }));
    charts.push(makeBarcode(refs.c2.current, {
      names: gseaCNames, rowSets: gseaCRowSets, rowHits: gseaCRowHits,
      padding: { left: 90, right: 24.5, top: 0, bottom: 0 },
    }));
    charts.push(makeMetric(refs.c3.current, {
      ranks: metricCRanks, values: metricCValues,
      padding: { left: 0, top: 14, right: 24.5, bottom: 0 }, axisW: 90, xAxisH: 25,
      yMin: -1.30, yMax: 2.07, titleX: 55.5, xTitleY: 152,
    }));
    charts.push(makeES(refs.d1.current, {
      names: gseaDNames, series: gseaDSeries, ranks: gseaDRanks,
      padding: { left: 0, top: 80, right: 4.4, bottom: 9 }, axisW: 128,
      yMin: -0.652, yMax: 0.152, yTicks: [-0.6, -0.4, -0.2, 0],
      fmt: (v: number) => v.toFixed(1),
      titleX: 100, letter: 'D', letterX: 65, letterY: 45,
      legendY0: 75.5, legendDy: 15.4, legendX0: 388, legendX1: 399, legendTx: 405, legendFont: 8.6,
    }));
    charts.push(makeBarcode(refs.d2.current, {
      names: gseaDNames, rowSets: gseaDRowSets, rowHits: gseaDRowHits,
      padding: { left: 128, right: 4.4, top: 0, bottom: 0 },
    }));
    charts.push(makeMetric(refs.d3.current, {
      ranks: metricDRanks, values: metricDValues,
      padding: { left: 0, top: 14, right: 4.4, bottom: 0 }, axisW: 128, xAxisH: 24,
      yMin: -1.29, yMax: 2.10, titleX: 100, xTitleY: 143,
    }));
    return () => charts.forEach((c) => c.destroy());
  }, []);

  return (
    <div style={{ position: 'absolute', left: 0, top: 0, width: 1960, height: 1071, background: '#fff', overflow: 'hidden' }}>
      {Object.entries(CANVASES).map(([key, g]: any) => (
        <canvas
          key={key}
          ref={refs[key]}
          width={g.width}
          height={g.height}
          style={{ position: 'absolute', left: g.left, top: g.top, width: g.width, height: g.height }}
        />
      ))}
    </div>
  );
}
